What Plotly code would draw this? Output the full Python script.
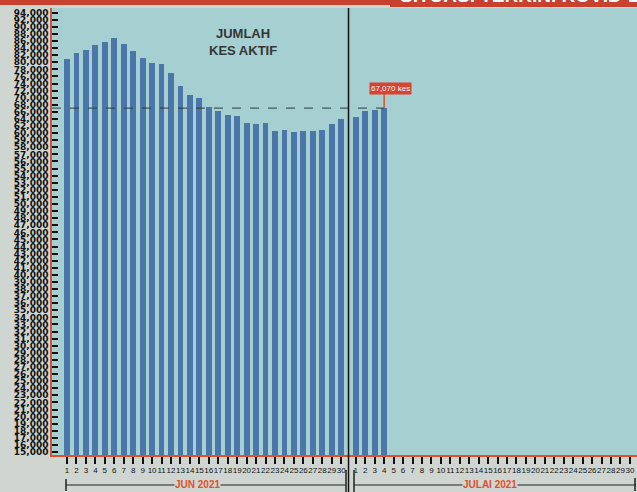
import plotly.graph_objects as go

# Jumlah kes aktif
jun_days = list(range(1, 31))
jun_cases = [81000, 82700, 83600, 84900, 85600, 86900, 85100, 83200, 81100, 79700,
             79500, 76900, 73300, 70700, 69800, 67400, 66200, 65100, 64800, 62900,
             62500, 62800, 60600, 60900, 60300, 60600, 60600, 60900, 62500, 64100]
jul_days = list(range(1, 32))          # axis runs to the end of July
jul_cases = [64500, 66200, 66400, 67070]
latest_label = "67,070 kes"

# y tick labels: 2,000 per step above 60k, 1,000 per step below
y_ticks = list(range(94000, 59999, -2000)) + list(range(59000, 14999, -1000))


def to_axis(v):
    # the printed axis is broken: 1,000 per step up to 60,000, 2,000 per step above
    if v <= 60000:
        return (v - 15000) / 1000
    return 45 + (v - 60000) / 2000


JULY_OFFSET = 30.55
Y_BOTTOM = -0.42
X_RANGE = [-0.59, 61.3]

W, H = 637, 492
M_L, M_T, M_B = 52, 8, 37
plot_h = H - M_T - M_B
plot_w = W - M_L


def py(pix):
    # pixel row -> paper y
    return (H - M_B - pix) / plot_h


def px(pix):
    return (pix - M_L) / plot_w


jun_x = jun_days
jul_x = [JULY_OFFSET + d for d in jul_days]

bar_color = "#4a76aa"
red = "#e0502a"
paper = "#cfd6d1"

fig = go.Figure()
fig.add_trace(go.Bar(
    x=jun_x + jul_x[:len(jul_cases)],
    y=[to_axis(v) - Y_BOTTOM for v in jun_cases + jul_cases],
    base=Y_BOTTOM,
    width=0.62,
    marker=dict(color=bar_color, line=dict(width=0)),
    customdata=jun_cases + jul_cases,
    hovertemplate="%{customdata:,}<extra></extra>",
))

latest_x = jul_x[len(jul_cases) - 1]
latest_y = to_axis(jul_cases[-1])

shapes = [
    # dashed reference line at latest value
    dict(type="line", xref="x", yref="y", x0=X_RANGE[0], x1=latest_x, y0=latest_y, y1=latest_y,
         line=dict(color="#2e3a3a", width=1, dash="dash")),
    # stem from label box to bar top
    dict(type="line", xref="x", yref="y", x0=latest_x, x1=latest_x, y0=latest_y, y1=latest_y + 2.0,
         line=dict(color=red, width=1.5)),
    # June / July divider
    dict(type="line", xref="x", yref="paper", x0=30.78, x1=30.78, y0=py(492), y1=1,
         line=dict(color="#111111", width=1.5)),
    # red banner on top
    dict(type="rect", xref="paper", yref="paper", x0=px(0), x1=1, y0=py(5), y1=py(0),
         fillcolor="#c8402e", line=dict(width=0)),
    dict(type="rect", xref="paper", yref="paper", x0=px(390), x1=1, y0=py(7), y1=py(0),
         fillcolor="#c8402e", line=dict(width=0)),
    # month brackets
    dict(type="line", xref="paper", yref="paper", x0=px(66), x1=px(346), y0=py(485), y1=py(485),
         line=dict(color="#222222", width=1)),
    dict(type="line", xref="paper", yref="paper", x0=px(66), x1=px(66), y0=py(479), y1=py(491),
         line=dict(color="#222222", width=1.5)),
    dict(type="line", xref="paper", yref="paper", x0=px(346), x1=px(346), y0=py(470), y1=py(492),
         line=dict(color="#222222", width=1.5)),
    dict(type="line", xref="paper", yref="paper", x0=px(354), x1=px(636), y0=py(485), y1=py(485),
         line=dict(color="#222222", width=1)),
    dict(type="line", xref="paper", yref="paper", x0=px(354), x1=px(354), y0=py(470), y1=py(492),
         line=dict(color="#222222", width=1.5)),
    dict(type="line", xref="paper", yref="paper", x0=px(635), x1=px(635), y0=py(478), y1=py(491),
         line=dict(color="#222222", width=1.5)),
]

annotations = [
    dict(text="<b>JUMLAH<br>KES AKTIF</b>", xref="paper", yref="paper", x=px(243), y=py(42),
         xanchor="center", yanchor="middle", showarrow=False,
         font=dict(family="Liberation Sans", size=13, color="#353535")),
    dict(text=latest_label, xref="x", yref="y", x=latest_x, y=latest_y, xshift=6, yshift=20,
         xanchor="center", yanchor="middle", showarrow=False, bgcolor="#d9432f", borderpad=1,
         font=dict(family="Liberation Sans", size=8, color="#ffffff")),
    dict(text="<b>JUN 2021</b>", xref="paper", yref="paper", x=px(197), y=py(485),
         xanchor="center", yanchor="middle", showarrow=False, bgcolor=paper, borderpad=0,
         font=dict(family="Liberation Sans", size=10, color=red)),
    dict(text="<b>JULAI 2021</b>", xref="paper", yref="paper", x=px(490), y=py(485),
         xanchor="center", yanchor="middle", showarrow=False, bgcolor=paper, borderpad=0,
         font=dict(family="Liberation Sans", size=10, color=red)),
    dict(text="<b>SITUASI TERKINI KOVID-19</b>", xref="paper", yref="paper", x=px(398), y=py(8),
         xanchor="left", yanchor="bottom", showarrow=False,
         font=dict(family="Liberation Sans", size=19, color="#ffffff")),
]

fig.update_layout(
    width=W, height=H,
    margin=dict(l=M_L, r=0, t=M_T, b=M_B, autoexpand=False),
    paper_bgcolor=paper,
    plot_bgcolor="#a5cfd1",
    showlegend=False,
    bargap=0,
    shapes=shapes,
    annotations=annotations,
)

fig.update_xaxes(
    range=X_RANGE,
    automargin=False,
    tickmode="array",
    tickvals=jun_x + jul_x,
    ticktext=[str(d) for d in jun_days + jul_days],
    tickangle=0,
    ticks="outside", ticklen=7, tickwidth=1.5, tickcolor="#111111",
    tickfont=dict(family="Liberation Sans Narrow, Liberation Sans", size=8, color="#111111"),
    showline=True, linecolor=red, linewidth=1.5,
    showgrid=False, zeroline=False,
)

fig.update_yaxes(
    range=[Y_BOTTOM, 62.66],
    automargin=False,
    tickmode="array",
    tickvals=[to_axis(v) for v in y_ticks],
    ticktext=[f"{v:,}" for v in y_ticks],
    ticks="inside", ticklen=6, tickwidth=1.5, tickcolor="#111111",
    tickfont=dict(family="DejaVu Sans", size=9, color="#111111", weight="bold"),
    showline=True, linecolor=red, linewidth=1.5,
    showgrid=False, zeroline=False,
)

# drop the page's default body margin so the figure sits at the window corner
fig.write_html("out.html", config={"displayModeBar": False},
               post_script="document.body.style.margin='0px';")
